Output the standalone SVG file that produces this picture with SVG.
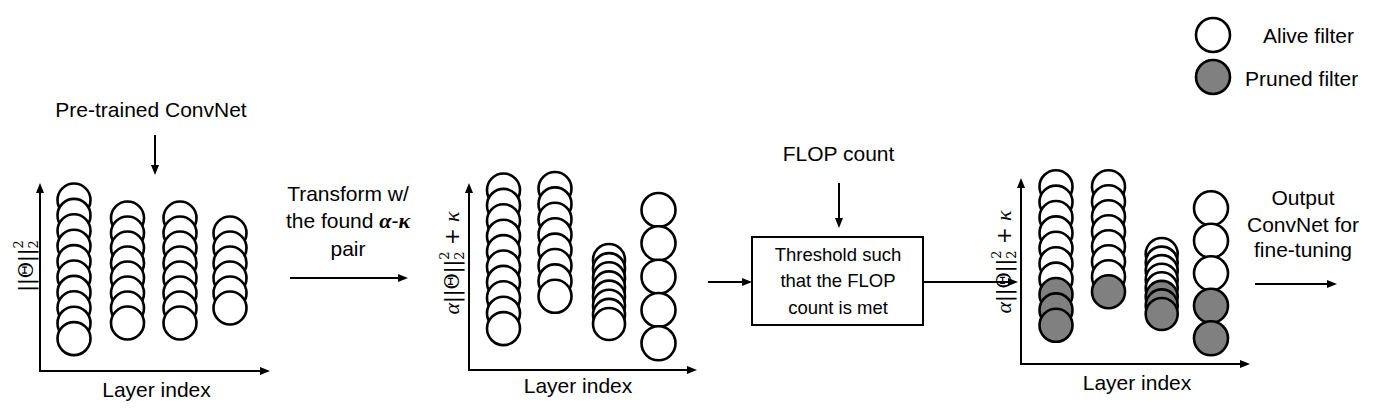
<svg xmlns="http://www.w3.org/2000/svg" width="1395" height="416" viewBox="0 0 1395 416">
<style>
.a{fill:#fff;stroke:#000;stroke-width:2.6}
.p{fill:#808080;stroke:#000;stroke-width:2.6}
.t{font-family:"Liberation Sans",Arial,sans-serif;font-size:21px;fill:#000}
.bt{font-family:"Liberation Sans",Arial,sans-serif;font-size:18.5px;fill:#000}
.m{font-family:"DejaVu Serif","Liberation Serif",serif;font-size:20px;fill:#000}
.g{font-family:"Liberation Serif","DejaVu Serif",serif;font-style:italic}
.s{font-size:13px}
.ln{stroke:#000;stroke-width:2;fill:none}
</style>
<defs>
<marker id="ah" markerWidth="10" markerHeight="8" refX="5" refY="4" orient="auto" markerUnits="userSpaceOnUse">
<path d="M0,0 L10,4 L0,8 z" fill="#000"/>
</marker>
</defs>
<rect width="1395" height="416" fill="#fff"/>

<g id="connectors">
<line class="ln" x1="155" y1="135" x2="155" y2="170" marker-end="url(#ah)"/>
<line class="ln" x1="290" y1="278" x2="403" y2="278" marker-end="url(#ah)"/>
<line class="ln" x1="839" y1="183" x2="839" y2="223" marker-end="url(#ah)"/>
<line class="ln" x1="708" y1="282" x2="747" y2="282" marker-end="url(#ah)"/>
<line class="ln" x1="923" y1="282" x2="1013" y2="282" marker-end="url(#ah)"/>
<line class="ln" x1="1255" y1="284" x2="1332" y2="284" marker-end="url(#ah)"/>
</g>

<g id="pretrained-label">
<text class="t" x="151" y="117" text-anchor="middle">Pre-trained ConvNet</text>
</g>

<g id="panel1">
<line class="ln" x1="40" y1="371" x2="40" y2="188" marker-end="url(#ah)"/>
<line class="ln" x1="39" y1="371" x2="265" y2="371" marker-end="url(#ah)"/>
<text class="m" transform="translate(33,266) rotate(-90)" text-anchor="middle">||Θ||<tspan class="s" dy="-10">2</tspan><tspan class="s" dx="-8.3" dy="15">2</tspan></text>
<g>
<circle class="a" cx="74" cy="200" r="16.5"/><circle class="a" cx="74" cy="215.4" r="16.5"/><circle class="a" cx="74" cy="230.8" r="16.5"/><circle class="a" cx="74" cy="246.2" r="16.5"/><circle class="a" cx="74" cy="261.6" r="16.5"/><circle class="a" cx="74" cy="277" r="16.5"/><circle class="a" cx="74" cy="292.4" r="16.5"/><circle class="a" cx="74" cy="307.8" r="16.5"/><circle class="a" cx="74" cy="323.2" r="16.5"/><circle class="a" cx="74" cy="338.6" r="16.5"/>
</g>
<g>
<circle class="a" cx="127.5" cy="218" r="16.5"/><circle class="a" cx="127.5" cy="233" r="16.5"/><circle class="a" cx="127.5" cy="248" r="16.5"/><circle class="a" cx="127.5" cy="263" r="16.5"/><circle class="a" cx="127.5" cy="278" r="16.5"/><circle class="a" cx="127.5" cy="293" r="16.5"/><circle class="a" cx="127.5" cy="308" r="16.5"/><circle class="a" cx="127.5" cy="323" r="16.5"/>
</g>
<g>
<circle class="a" cx="180" cy="218" r="16.5"/><circle class="a" cx="180" cy="233" r="16.5"/><circle class="a" cx="180" cy="248" r="16.5"/><circle class="a" cx="180" cy="263" r="16.5"/><circle class="a" cx="180" cy="278" r="16.5"/><circle class="a" cx="180" cy="293" r="16.5"/><circle class="a" cx="180" cy="308" r="16.5"/><circle class="a" cx="180" cy="323" r="16.5"/>
</g>
<g>
<circle class="a" cx="230" cy="233" r="16.5"/><circle class="a" cx="230" cy="248" r="16.5"/><circle class="a" cx="230" cy="263" r="16.5"/><circle class="a" cx="230" cy="278" r="16.5"/><circle class="a" cx="230" cy="293" r="16.5"/><circle class="a" cx="230" cy="308" r="16.5"/>
</g>
<text class="t" x="156.5" y="397" text-anchor="middle">Layer index</text>
</g>

<g id="transform-label">
<text class="t" x="348" y="200.5" text-anchor="middle">Transform w/</text>
<text class="t" x="348" y="228" text-anchor="middle">the found <tspan font-family="Liberation Serif" font-weight="bold" font-style="italic" font-size="22">α</tspan>-<tspan font-family="Liberation Serif" font-weight="bold" font-style="italic" font-size="22">κ</tspan></text>
<text class="t" x="348" y="255.5" text-anchor="middle">pair</text>
</g>

<g id="panel2">
<line class="ln" x1="469" y1="370" x2="469" y2="188" marker-end="url(#ah)"/>
<line class="ln" x1="468" y1="370" x2="692" y2="370" marker-end="url(#ah)"/>
<text class="m" transform="translate(459,263) rotate(-90)" text-anchor="middle"><tspan class="g" font-size="22">α</tspan>||Θ||<tspan class="s" dy="-10">2</tspan><tspan class="s" dx="-8.3" dy="15">2</tspan><tspan dy="-5"> + </tspan><tspan class="g" font-size="22">κ</tspan></text>
<g>
<circle class="a" cx="503.5" cy="190" r="16.5"/><circle class="a" cx="503.5" cy="205.4" r="16.5"/><circle class="a" cx="503.5" cy="220.8" r="16.5"/><circle class="a" cx="503.5" cy="236.2" r="16.5"/><circle class="a" cx="503.5" cy="251.6" r="16.5"/><circle class="a" cx="503.5" cy="267" r="16.5"/><circle class="a" cx="503.5" cy="282.4" r="16.5"/><circle class="a" cx="503.5" cy="297.8" r="16.5"/><circle class="a" cx="503.5" cy="313.2" r="16.5"/><circle class="a" cx="503.5" cy="328.6" r="16.5"/>
</g>
<g>
<circle class="a" cx="555" cy="188.5" r="16.5"/><circle class="a" cx="555" cy="203.9" r="16.5"/><circle class="a" cx="555" cy="219.3" r="16.5"/><circle class="a" cx="555" cy="234.7" r="16.5"/><circle class="a" cx="555" cy="250.1" r="16.5"/><circle class="a" cx="555" cy="265.5" r="16.5"/><circle class="a" cx="555" cy="280.9" r="16.5"/><circle class="a" cx="555" cy="296.3" r="16.5"/>
</g>
<g>
<circle class="a" cx="609" cy="260" r="16"/><circle class="a" cx="609" cy="269.1" r="16"/><circle class="a" cx="609" cy="278.3" r="16"/><circle class="a" cx="609" cy="287.4" r="16"/><circle class="a" cx="609" cy="296.6" r="16"/><circle class="a" cx="609" cy="305.7" r="16"/><circle class="a" cx="609" cy="314.9" r="16"/><circle class="a" cx="609" cy="324" r="16"/>
</g>
<g>
<circle class="a" cx="658.5" cy="210" r="17"/><circle class="a" cx="658.5" cy="243.3" r="17"/><circle class="a" cx="658.5" cy="276.7" r="17"/><circle class="a" cx="658.5" cy="310" r="17"/><circle class="a" cx="658.5" cy="343.3" r="17"/>
</g>
<text class="t" x="578" y="393" text-anchor="middle">Layer index</text>
</g>

<g id="flop-count">
<text class="t" x="838.5" y="161" text-anchor="middle">FLOP count</text>
</g>

<g id="threshold">
<rect x="752" y="237" width="171" height="88" fill="#fff" stroke="#000" stroke-width="2"/>
<text class="bt" x="838" y="261" text-anchor="middle">Threshold such</text>
<text class="bt" x="838" y="287" text-anchor="middle">that the FLOP</text>
<text class="bt" x="838" y="314" text-anchor="middle">count is met</text>
</g>

<g id="panel3">
<line class="ln" x1="1021" y1="364" x2="1021" y2="183" marker-end="url(#ah)"/>
<line class="ln" x1="1020" y1="364" x2="1245" y2="364" marker-end="url(#ah)"/>
<text class="m" transform="translate(1011,262) rotate(-90)" text-anchor="middle"><tspan class="g" font-size="22">α</tspan>||Θ||<tspan class="s" dy="-10">2</tspan><tspan class="s" dx="-8.3" dy="15">2</tspan><tspan dy="-5"> + </tspan><tspan class="g" font-size="22">κ</tspan></text>
<g>
<circle class="a" cx="1056" cy="186.7" r="16.5"/><circle class="a" cx="1056" cy="202.1" r="16.5"/><circle class="a" cx="1056" cy="217.5" r="16.5"/><circle class="a" cx="1056" cy="232.9" r="16.5"/><circle class="a" cx="1056" cy="248.3" r="16.5"/><circle class="a" cx="1056" cy="263.7" r="16.5"/><circle class="a" cx="1056" cy="279.1" r="16.5"/><circle class="p" cx="1056" cy="294.5" r="16.5"/><circle class="p" cx="1056" cy="309.9" r="16.5"/><circle class="p" cx="1056" cy="325.3" r="16.5"/>
</g>
<g>
<circle class="a" cx="1108.5" cy="186.7" r="16.5"/><circle class="a" cx="1108.5" cy="201.7" r="16.5"/><circle class="a" cx="1108.5" cy="216.7" r="16.5"/><circle class="a" cx="1108.5" cy="231.7" r="16.5"/><circle class="a" cx="1108.5" cy="246.7" r="16.5"/><circle class="a" cx="1108.5" cy="261.7" r="16.5"/><circle class="a" cx="1108.5" cy="276.7" r="16.5"/><circle class="p" cx="1108.5" cy="291.7" r="16.5"/>
</g>
<g>
<circle class="a" cx="1161.7" cy="254" r="16"/><circle class="a" cx="1161.7" cy="262.6" r="16"/><circle class="a" cx="1161.7" cy="271.1" r="16"/><circle class="a" cx="1161.7" cy="279.7" r="16"/><circle class="a" cx="1161.7" cy="288.3" r="16"/><circle class="p" cx="1161.7" cy="296.9" r="16"/><circle class="p" cx="1161.7" cy="305.4" r="16"/><circle class="p" cx="1161.7" cy="314" r="16"/>
</g>
<g>
<circle class="a" cx="1211" cy="208.3" r="17"/><circle class="a" cx="1211" cy="240.8" r="17"/><circle class="a" cx="1211" cy="273.3" r="17"/><circle class="p" cx="1211" cy="305.8" r="17"/><circle class="p" cx="1211" cy="338.3" r="17"/>
</g>
<text class="t" x="1137" y="390" text-anchor="middle">Layer index</text>
</g>

<g id="output-label">
<text class="t" x="1303" y="205" text-anchor="middle">Output</text>
<text class="t" x="1303" y="231.5" text-anchor="middle">ConvNet for</text>
<text class="t" x="1303" y="257" text-anchor="middle">fine-tuning</text>
</g>

<g id="legend">
<circle class="a" cx="1213" cy="35" r="17"/>
<text class="t" x="1263" y="43">Alive filter</text>
<circle class="p" cx="1213" cy="77" r="17"/>
<text class="t" x="1245" y="86">Pruned filter</text>
</g>
</svg>
